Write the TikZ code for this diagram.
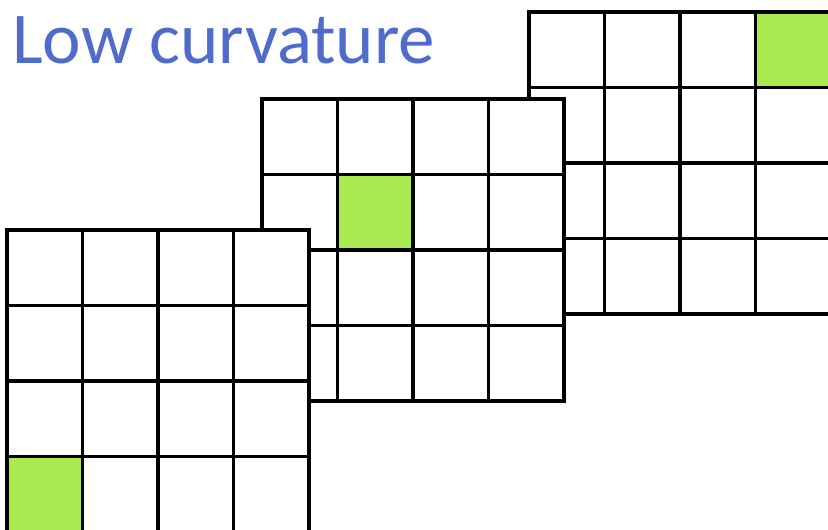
\documentclass[tikz,border=0pt]{standalone}
\usepackage{fontspec}
\setmainfont{Carlito}
\definecolor{titleblue}{HTML}{4F6BCB}
\definecolor{cellgreen}{HTML}{A9EA50}
\tikzset{
  gridline/.style={draw=black,line width=3.5pt},
  hotcell/.style={fill=cellgreen},
  titletext/.style={text=titleblue,inner sep=0pt,anchor=base west,
                    font=\fontsize{73}{80}\selectfont}
}
\begin{document}
\begin{tikzpicture}[x=1pt,y=-1pt]
    \useasboundingbox (0,0) rectangle (828,530);
    \clip (0,0) rectangle (828,530);

    % three 4x4 grids, back to front: left/top corner and the lit cell
    \foreach \gx/\gy/\hc/\hr in {529/12/3/0, 262/99/1/1, 7/230/0/3} {
      \fill[white] (\gx,\gy) rectangle ++(302,302);
      \fill[hotcell] ({\gx+\hc*75.5},{\gy+\hr*75.5}) rectangle ++(75.5,75.5);
      \foreach \k in {1,2,3} {
        \draw[gridline] ({\gx+\k*75.5},\gy) -- ++(0,302);
        \draw[gridline] (\gx,{\gy+\k*75.5}) -- ++(302,0);
      }
      \draw[gridline] (\gx,\gy) rectangle ++(302,302);
    }

    \node[titletext] (title) at (12,63) {Low curvature};
\end{tikzpicture}
\end{document}
